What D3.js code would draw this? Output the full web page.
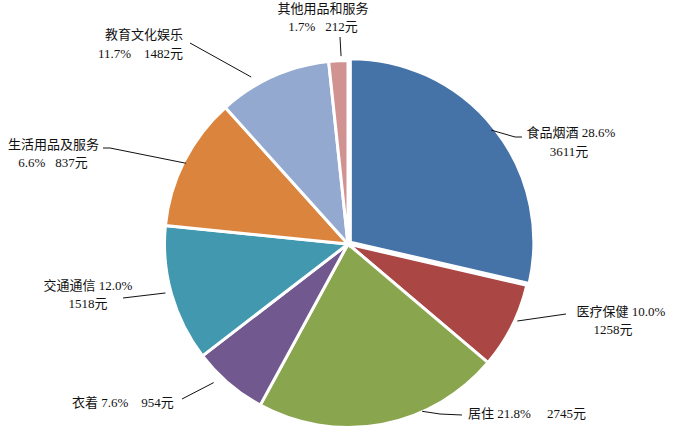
<!DOCTYPE html>
<html lang="zh">
<head>
    <meta charset="UTF-8">
    <title>居民人均消费支出构成</title>
    <script src="https://d3js.org/d3.v7.min.js"></script>
    <style>
        body { margin: 0; background: #fff; }
        text { font-family: "Liberation Serif", "Noto Sans CJK SC", serif; font-size: 13px; fill: #111; white-space: pre; }
    </style>
</head>
<body>

<script>
    // 数据（按扇区顺序，从正上方顺时针）
    var categories = ['食品烟酒', '衣着', '居住', '生活用品及服务', '交通通信', '教育文化娱乐', '医疗保健', '其他用品和服务'];
    var values = [3611, 954, 2745, 837, 1518, 1482, 1258, 212];
    var colors = ['#4572A7', '#AA4643', '#89A54E', '#71588F', '#4198AF', '#DB843D', '#93A9CF', '#D19392'];

    // 原图中标签摆放的顺序（第 i 个标签挨着第 i 个扇区）
    var labelOrder = ['食品烟酒', '医疗保健', '居住', '衣着', '交通通信', '生活用品及服务', '教育文化娱乐', '其他用品和服务'];

    var width = 698, height = 444;
    var cx = 348, cy = 244, radius = 183.5;

    // 标签版式：引线在扇区内的位置 t、引线起点半径、拐点、文字行
    var layout = [
        { t: 0.5, r: 180, pts: [[515, 137], [522, 137]],
          lines: [{ x: 571, y: 132, a: 'middle', s: '{n} {p}' }, { x: 569, y: 151, a: 'middle', s: '{v}' }] },
        { t: 0.42, r: 186, pts: [[566, 314]],
          lines: [{ x: 621, y: 311, a: 'middle', s: '{n} {p}' }, { x: 613, y: 329, a: 'middle', s: '{v}' }] },
        { t: 0.33, r: 183, pts: [[440, 414], [462, 415]],
          lines: [{ x: 468, y: 413, a: 'start', s: '{n} {p}     {v}' }] },
        { t: 0.65, r: 193, pts: [[182, 399]],
          lines: [{ x: 72, y: 402, a: 'start', s: '{n} {p}    {v}' }] },
        { t: 0.52, r: 189, pts: [[123, 298]],
          lines: [{ x: 88, y: 285, a: 'middle', s: '{n} {p}' }, { x: 88, y: 303, a: 'middle', s: '{v}' }] },
        { t: 0.49, r: 181, pts: [[110, 148], [103, 148]],
          lines: [{ x: 8, y: 144, a: 'start', s: '{n}' }, { x: 53, y: 162, a: 'middle', s: '{p}   {v}' }] },
        { t: 0.33, r: 193, pts: [[190, 43]],
          lines: [{ x: 183, y: 34, a: 'end', s: '{n}' }, { x: 183, y: 53, a: 'end', s: '{p}    {v}' }] },
        { t: 0.65, r: 188, pts: [[340, 37]],
          lines: [{ x: 323, y: 8, a: 'middle', s: '{n}' }, { x: 323, y: 26, a: 'middle', s: '{p}   {v}' }] }
    ];

    var total = d3.sum(values);
    var pctFmt = d3.format('.1%');

    var svg = d3.select('body').append('svg')
        .attr('width', width)
        .attr('height', height);

    var g = svg.append('g').attr('transform', 'translate(' + cx + ',' + cy + ')');

    var pie = d3.pie().sort(null).value(function (d) { return d; });
    var arcs = pie(values);
    var arc = d3.arc().innerRadius(0).outerRadius(radius);

    // 第一块（食品烟酒）稍微分离
    var explode = [3, 0, 0, 0, 0, 0, 0, 0];

    function offset(d, i) {
        var a = (d.startAngle + d.endAngle) / 2;
        return [Math.sin(a) * explode[i], -Math.cos(a) * explode[i]];
    }

    g.selectAll('path')
        .data(arcs)
        .enter().append('path')
        .attr('d', arc)
        .attr('transform', function (d, i) { var o = offset(d, i); return 'translate(' + o[0] + ',' + o[1] + ')'; })
        .attr('fill', function (d, i) { return colors[i]; })
        .attr('stroke', '#fff')
        .attr('stroke-width', 3);

    // 引线
    var line = d3.line();
    arcs.forEach(function (d, i) {
        var L = layout[i];
        var a = d.startAngle + L.t * (d.endAngle - d.startAngle);
        var o = offset(d, i);
        var start = [cx + o[0] + Math.sin(a) * L.r, cy + o[1] - Math.cos(a) * L.r];
        svg.append('path')
            .attr('d', line([start].concat(L.pts)))
            .attr('fill', 'none')
            .attr('stroke', '#111')
            .attr('stroke-width', 1);
    });

    // 标签文字
    labelOrder.forEach(function (name, i) {
        var v = values[categories.indexOf(name)];
        layout[i].lines.forEach(function (ln) {
            var s = ln.s.replace('{n}', name).replace('{p}', pctFmt(v / total)).replace('{v}', v + '元');
            svg.append('text')
                .attr('x', ln.x)
                .attr('y', ln.y)
                .attr('dy', '0.35em')
                .attr('text-anchor', ln.a)
                .text(s);
        });
    });
</script>

</body>
</html>
